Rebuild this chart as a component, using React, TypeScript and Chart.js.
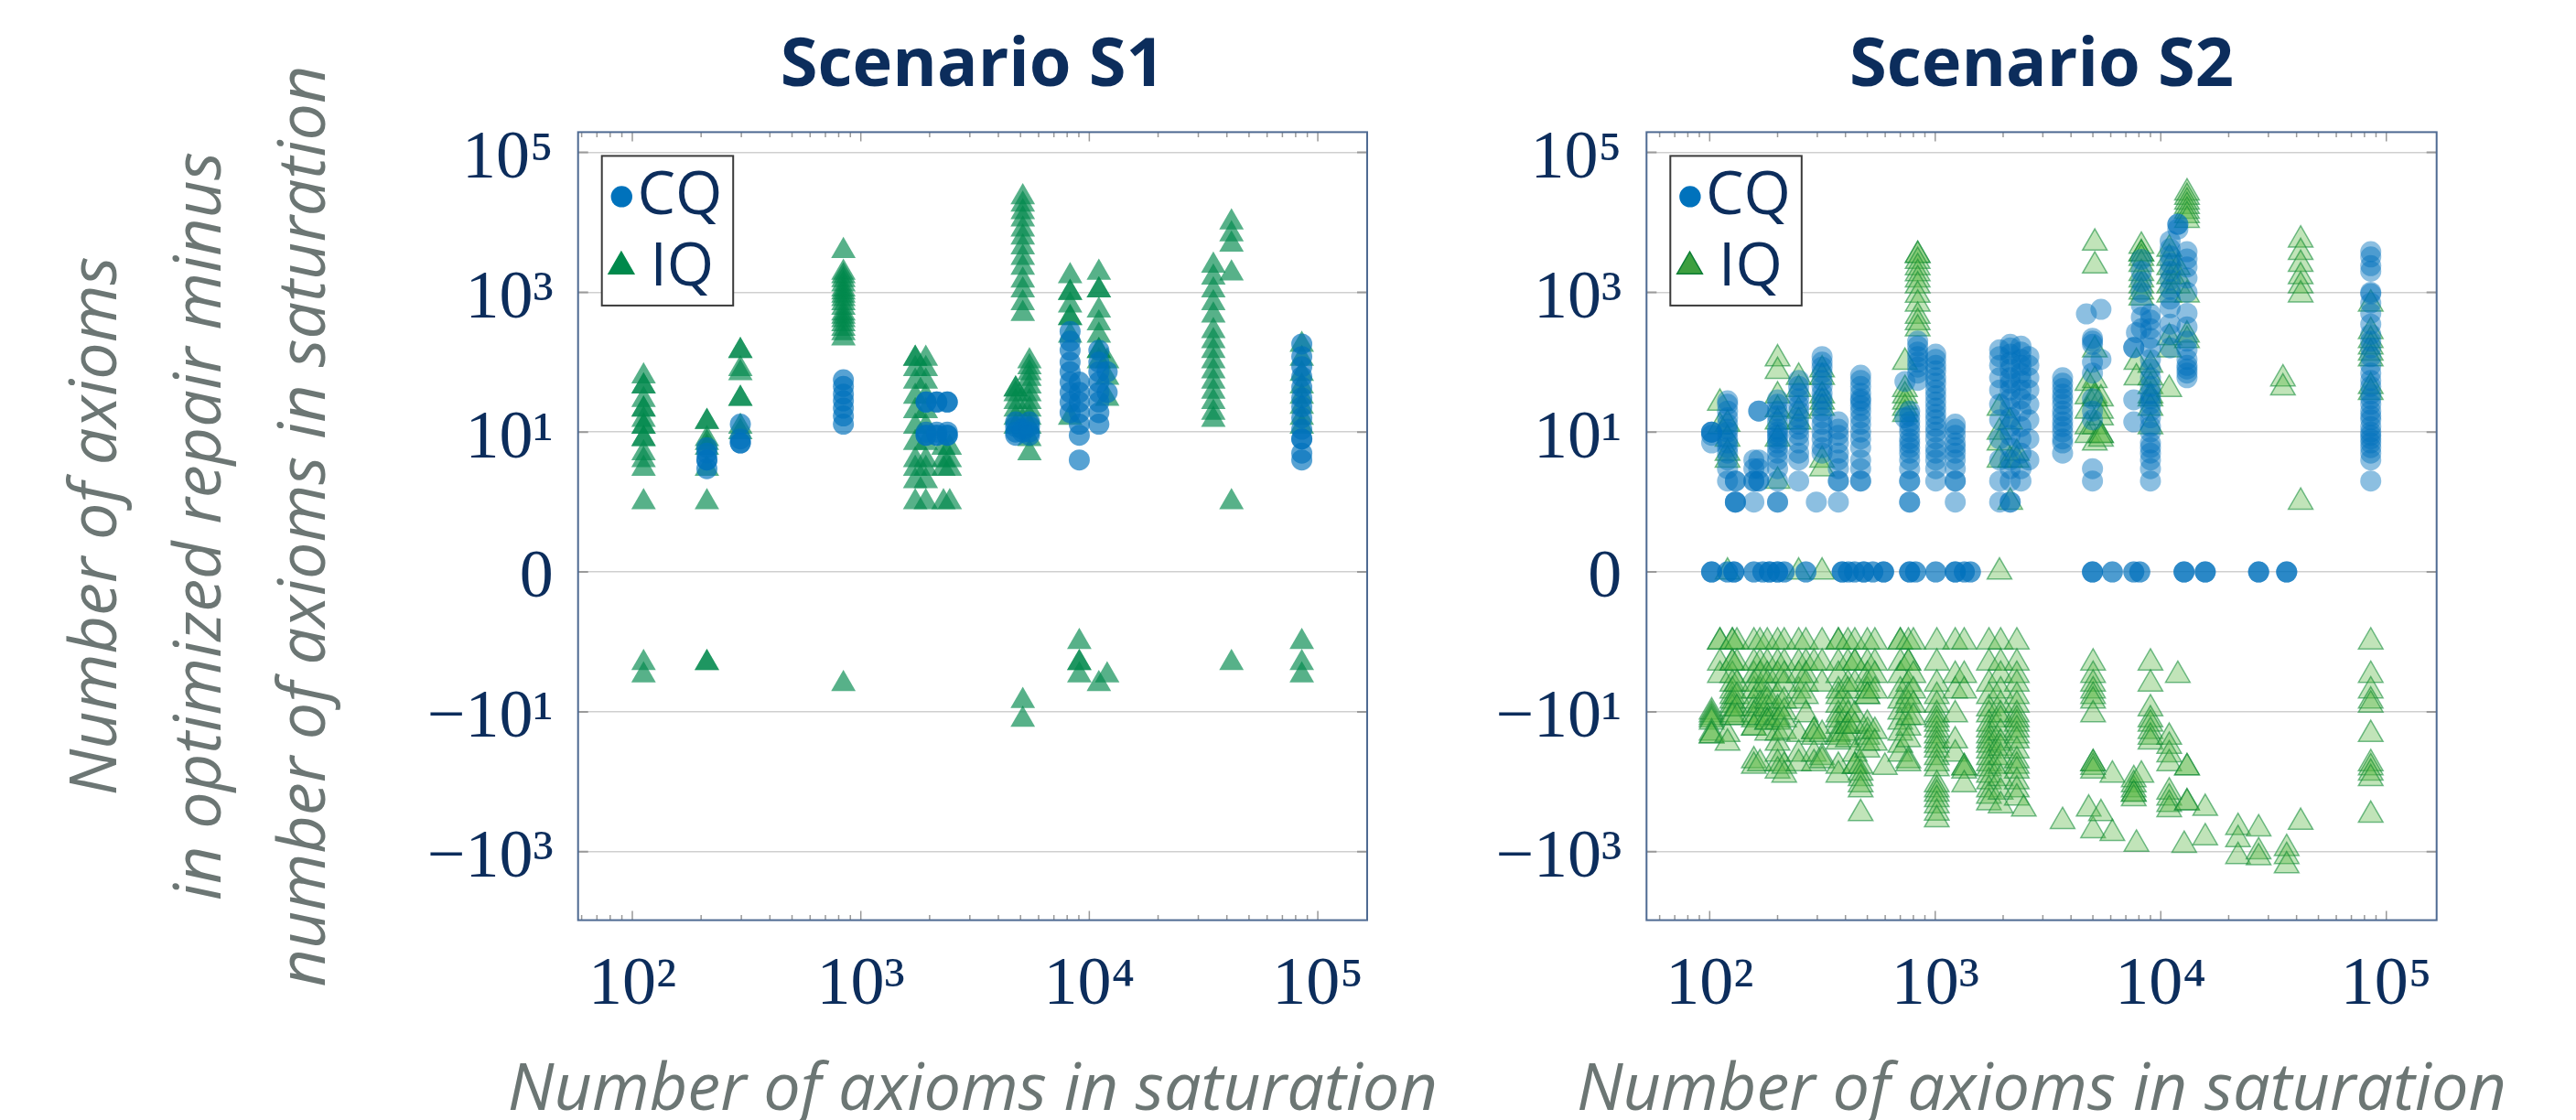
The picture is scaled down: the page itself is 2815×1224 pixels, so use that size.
import React, { useEffect, useRef } from 'react';
import { Chart, registerables } from 'chart.js';

Chart.register(...registerables);

type Column = [number, number[]];

// ---------------- data (x = axioms in saturation, values = difference) ----------------
const s1CQ: Column[] = [
  [212, [6, 5, 4, 4, 3]],
  [297, [13, 8, 7, 7]],
  [839, [56, 45, 35, 28, 22, 17, 13]],
  [1930, [27, 27, 10, 9, 9]],
  [2150, [27, 27, 10, 9, 9]],
  [2390, [27, 27, 10, 9, 9]],
  [4760, [14, 12, 10, 9]],
  [5100, [11, 10]],
  [5470, [14, 12, 10, 9]],
  [8240, [275, 200, 148, 100, 73, 52, 37, 27, 19]],
  [9040, [52, 37, 27, 19, 13, 9, 4]],
  [11010, [148, 100, 73, 52, 37, 27, 19, 13]],
  [11970, [73, 37]],
  [85100, [182, 120, 86, 62, 44, 31, 23, 16, 11, 8, 8, 5, 4]],
];

const s1IQ: Column[] = [
  [112, [63, 45, 45, 29, 21, 21, 15, 12, 12, 8, 8, 5, 4, 3, 1, -2, -3]],
  [212, [14, 14, 8, 7, 6, 3, 1, -2, -2]],
  [297, [145, 145, 80, 70, 30, 30, 12, 10]],
  [839, [3900, 1900, 1700, 1500, 1300, 1100, 1000, 900, 800, 700, 600, 500, 450, 400, 350, 300, 260, 220, -4]],
  [1730, [112, 112, 80, 53, 32, 20, 12, 7, 4, 3, 2, 1]],
  [1925, [112, 80, 53, 32, 20, 12, 7, 4, 3, 2, 1]],
  [2300, [6, 4, 3, 1]],
  [2450, [6, 4, 3, 1]],
  [4760, [41, 41, 35, 27, 21, 16, 12]],
  [5115, [22900, 18000, 14000, 11000, 7900, 6100, 4400, 3100, 2250, 1480, 1070, 700, 490, -7, -13]],
  [5470, [103, 85, 70, 58, 45, 35, 27, 21, 16, 12, 8, 5]],
  [8240, [1700, 980, 980, 650, 430, 430, 240, 16]],
  [9040, [-1, -2, -2, -3]],
  [11010, [1900, 1070, 1070, 550, 360, 240, 145, 145, 103, -4]],
  [11970, [103, 60, 30, -3]],
  [34900, [2400, 1630, 1070, 700, 465, 280, 200, 145, 103, 74, 53, 38, 27, 19, 15]],
  [41900, [10000, 6760, 4800, 1860, 1, -2]],
  [85100, [178, 112, 68, 45, 32, 23, 16, 12, -1, -2, -3]],
];

const s2CQ: Column[] = [
  [102, [10, 10, 10, 9, 7, 0, 0, 0]],
  [120, [28, 25, 20, 16, 13, 11, 10, 8, 7, 6, 5, 4, 3, 2, 0, 0]],
  [128, [0, 0, 0]],
  [130, [2, 2, 1, 1, 1]],
  [157, [4, 3, 2, 2, 1, 0, 0]],
  [165, [20, 20, 4, 3, 2, 2]],
  [172, [0, 0]],
  [184, [0, 0, 0]],
  [200, [29, 25, 20, 17, 14, 11, 10, 9, 8, 7, 6, 5, 4, 3, 2, 1, 1, 0, 0, 0]],
  [214, [0, 0]],
  [248, [55, 45, 36, 30, 24, 20, 16, 13, 11, 9, 7, 5, 4, 2]],
  [267, [0, 0]],
  [297, [1]],
  [315, [120, 100, 85, 70, 55, 45, 36, 30, 25, 20, 16, 13, 10, 8, 6, 5]],
  [372, [14, 11, 9, 7, 5, 4, 3, 2, 2, 1]],
  [387, [0, 0, 0]],
  [412, [0, 0]],
  [439, [0, 0]],
  [467, [65, 55, 45, 36, 30, 28, 24, 20, 16, 13, 10, 8, 6, 4, 3, 2, 2]],
  [482, [0, 0, 0]],
  [529, [0, 0]],
  [590, [0, 0, 0]],
  [734, [53, 16]],
  [770, [20, 17, 14, 12, 10, 8, 7, 6, 5, 4, 3, 2, 2, 1, 1, 0, 0, 0]],
  [818, [0, 0]],
  [836, [200, 170, 140, 120, 100, 85, 70, 55]],
  [1005, [130, 110, 90, 75, 60, 50, 40, 33, 27, 22, 18, 15, 12, 10, 8, 6, 5, 4, 3, 2, 0, 0]],
  [1227, [13, 11, 9, 7, 6, 5, 4, 3, 2, 2, 1, 0, 0, 0]],
  [1346, [0, 0]],
  [1432, [0, 0]],
  [1930, [150, 120, 90, 60, 40, 25, 15, 8, 4, 2, 1]],
  [2150, [180, 160, 130, 100, 80, 60, 50, 40, 30, 22, 16, 12, 9, 6, 4, 3, 2, 1, 1]],
  [2400, [170, 140, 110, 90, 70, 55, 40, 30, 20, 12, 8, 5, 3, 2]],
  [2600, [120, 90, 60, 40, 25, 15, 8, 4]],
  [3670, [60, 50, 42, 35, 30, 25, 20, 17, 14, 12, 10, 8, 7, 5]],
  [4680, [490]],
  [4980, [220, 200, 180, 100, 70, 30, 20, 15, 3, 2, 0, 0, 0]],
  [5430, [570, 110]],
  [6100, [0, 0]],
  [7590, [162, 162, 29, 14, 0, 0]],
  [7800, [265]],
  [8070, [0, 0]],
  [8200, [2950, 2000, 1400, 1000, 660, 440, 300]],
  [9000, [490, 400, 300, 220, 160, 110, 80, 60, 45, 35, 30, 25, 20, 16, 12, 10, 7, 6, 5, 4, 3, 2]],
  [11000, [5400, 4200, 3300, 2600, 2000, 1500, 1100, 800, 600, 350, 250, 160]],
  [11900, [9400, 9400, 8000]],
  [12680, [0, 0, 0]],
  [13070, [3800, 3000, 2300, 1600, 1000, 500, 320, 200, 150, 110, 90, 80, 70, 60]],
  [15740, [0, 0, 0]],
  [27150, [0, 0, 0]],
  [36150, [0, 0, 0]],
  [85300, [3800, 3200, 2400, 2000, 1000, 950, 700, 500, 350, 250, 200, 160, 120, 90, 70, 55, 45, 35, 30, 25, 20, 17, 15, 12, 10, 9, 8, 7, 6, 5, 4, 2]],
];

const s2IQ: Column[] = [
  [102, [-10, -11, -12, -13, -14, -20, -22, -22]],
  [111, [26, 12, -1, -1, -2, -3]],
  [120, [13, 8, 5, 4, 0, -21, -28]],
  [126, [-1, -1, -2, -2, -3, -4, -5, -6, -7, -8, -9, -11, -12]],
  [132, [-1, -2, -4, -6, -9, -12]],
  [157, [-1, -2, -3, -4, -5, -7, -9, -11, -13, -17, -17, -50, -60]],
  [167, [-1, -2, -3, -5, -8, -12, -55]],
  [180, [-1, -2, -3, -4, -6, -7, -9, -12, -14, -14, -20]],
  [200, [112, 74, 33, 21, 14, 8, 2, -1, -2, -3, -6, -9, -12, -14, -20, -28, -40, -55, -70]],
  [214, [-1, -2, -3, -4, -7, -10, -13, -19, -60, -80]],
  [248, [61, 41, 20, 14, 0, -1, -2, -3, -5, -7, -21, -40, -55]],
  [267, [-1, -2, -3, -4, -6, -11]],
  [290, [-2, -19, -19, -23, -40, -55]],
  [315, [78, 61, 33, 27, 22, 4, 3, 0, -1, -2, -4, -21, -45, -50]],
  [372, [-1, -1, -2, -3, -5, -6, -8, -11, -13, -16, -21, -23, -27, -60, -80]],
  [410, [-1, -2, -4, -5, -8, -11, -16, -16, -20, -25]],
  [440, [-1, -2, -2, -4, -11, -16, -40, -60, -60]],
  [467, [-60, -75, -90, -110, -130, -285]],
  [500, [-1, -2, -3, -4, -5, -6, -6, -15, -19, -23, -28, -35]],
  [540, [-1, -2, -3, -5, -19, -28]],
  [598, [-62]],
  [700, [-1, -1, -2, -3, -5, -7, -10, -14, -20, -30, -40]],
  [734, [100, 41, 33, 27, 22, 18]],
  [760, [-1, -2, -2, -4, -6, -8, -12, -17, -25, -50, -55]],
  [800, [-1, -3, -5, -8, -12]],
  [836, [3380, 3380, 2770, 2250, 1850, 1510, 1240, 910, 680, 455, 370, 300]],
  [1016, [-1, -2, -4, -6, -8, -11, -13, -15, -18, -22, -26, -30, -35, -45, -55, -65, -110, -130, -150, -180, -220, -280, -350]],
  [1226, [-1, -3, -5, -11, -26, -40]],
  [1344, [-1, -3, -5, -63, -63, -70, -110]],
  [1730, [-1, -2, -4, -6, -9, -11, -15, -18, -22, -26, -30, -36, -45, -55, -65, -80, -100, -130, -160, -200]],
  [1927, [22, 10, 7, 4, 0]],
  [1950, [-1, -2, -3, -5, -8, -11, -13, -20, -28, -33, -45, -60, -90, -140, -220]],
  [2150, [14, 4, 1]],
  [2300, [5, 4, -1, -2, -3, -4, -6, -8, -11, -13, -15, -18, -22, -26, -36, -50, -60, -70, -100, -130, -170]],
  [2470, [-245]],
  [3670, [-370]],
  [4730, [50, 32, 20, 12, 9]],
  [4790, [-245]],
  [5010, [-2, -3, -4, -5, -6, -7, -11, -55, -55, -62, -70, -500]],
  [5100, [5060, 2380, 150, 55, 33, 30, 12, 7]],
  [5430, [30, 20, 16, 9, 9, 8, -285]],
  [6100, [-80, -550]],
  [7590, [-93, -110, -130, -150, -150, -175]],
  [7800, [100, 60, -780]],
  [8200, [4570, 3550, 3550, 3070, 2510, 1860, 1510, 1240, 1010, 830, -80]],
  [9000, [91, 60, 45, 33, 30, 22, 12, -2, -4, -9, -13, -15, -19, -23, -27]],
  [10900, [4140, 3070, 2260, 1670, 1240, 920, 225, 150, 41, -23, -31, -41, -55, -140, -170, -210, -250]],
  [11900, [2260, 1670, 1240, -3]],
  [12700, [-810]],
  [13070, [26500, 22800, 19600, 16900, 14500, 12500, 10700, 920, 245, 205, -63, -63, -200, -200]],
  [15740, [-630, -240]],
  [22000, [-450, -670, -1170]],
  [27150, [-470, -1000, -1220]],
  [34800, [58, 43]],
  [36150, [-900, -1170, -1590]],
  [41700, [5600, 3720, 2510, 1670, 1240, 920, 1, -380]],
  [85300, [680, 275, 205, 166, 135, 112, 45, 37, -1, -3, -5, -7, -8, -21, -55, -63, -75, -90, -300]],
];

const panelTitles = ['Scenario S1', 'Scenario S2'];
const seriesLabels = ['CQ', 'IQ'];
const xAxisTitle = 'Number of axioms in saturation';
const yAxisTitle = ['Number of axioms', 'in optimized repair minus', 'number of axioms in saturation'];
const yTickValues = [-1000, -10, 0, 10, 1000, 100000];
const yTickLabels = ['\u221210\u00B3', '\u221210\u00B9', '0', '10\u00B9', '10\u00B3', '10\u2075'];
const xTickValues = [100, 1000, 10000, 100000];
const xTickLabels = ['10\u00B2', '10\u00B3', '10\u2074', '10\u2075'];

// ---------------- helpers ----------------
const NAVY = '#0c2d5c';
const GRAY_TEXT = '#6c7674';
const CANVAS_H = 1224;
const AXIS_TITLE_SIZE = 72;

function symlog(v: number): number {
  if (v === 0) return 0;
  return Math.sign(v) * (1 + Math.log10(Math.abs(v)));
}

function flatten(cols: Column[]) {
  const pts: { x: number; y: number }[] = [];
  for (const [x, ys] of cols) for (const y of ys) pts.push({ x, y: symlog(y) });
  return pts;
}

type Panel = {
  title: string;
  cq: Column[];
  iq: Column[];
  canvasLeft: number;
  canvasWidth: number;
  padLeft: number;
  padRight: number;
  yAxisWidth: number;
  xMin: number;
  xMax: number;
  showYTitle: boolean;
  cqColor: string;
  iqFill: string;
  iqBorder: string;
  iqBorderWidth: number;
  legendCq: string;
  legendTri: string;
  legendTriBorder: string;
};

// plot areas: S1 x 631.7..1494, S2 x 1799.3..2662.7, both y 144.4..1005.6
const panels: Panel[] = [
  {
    title: panelTitles[0],
    cq: s1CQ,
    iq: s1IQ,
    canvasLeft: 0,
    canvasWidth: 1640,
    padLeft: 49,
    padRight: 1640 - 1494,
    yAxisWidth: 631.7 - 49,
    xMin: Math.pow(10, 1.7625),
    xMax: Math.pow(10, 5.216),
    showYTitle: true,
    cqColor: 'rgba(0,114,188,0.66)',
    iqFill: 'rgba(0,137,76,0.66)',
    iqBorder: 'rgba(0,137,76,0)',
    iqBorderWidth: 0,
    legendCq: '#0072bc',
    legendTri: '#00894c',
    legendTriBorder: '#00894c',
  },
  {
    title: panelTitles[1],
    cq: s2CQ,
    iq: s2IQ,
    canvasLeft: 1600,
    canvasWidth: 1215,
    padLeft: 0,
    padRight: 2815 - 2662.7,
    yAxisWidth: 1799.3 - 1600,
    xMin: Math.pow(10, 1.72),
    xMax: Math.pow(10, 5.223),
    showYTitle: false,
    cqColor: 'rgba(0,114,188,0.45)',
    iqFill: 'rgba(92,184,72,0.38)',
    iqBorder: 'rgba(10,135,50,0.55)',
    iqBorderWidth: 1.5,
    legendCq: '#0072bc',
    legendTri: '#3d9f3f',
    legendTriBorder: '#0b7d35',
  },
];

const framePlugin = {
  id: 'frame',
  afterDraw(chart: any, _args: any, opts: any) {
    const { ctx, chartArea: a, scales } = chart;
    const xs = scales.x;
    const ys = scales.y;
    ctx.save();
    // x ticks (inside, top and bottom)
    ctx.strokeStyle = '#999999';
    ctx.lineWidth = 1.5;
    const lo = Math.floor(Math.log10(xs.min));
    const hi = Math.ceil(Math.log10(xs.max));
    for (let k = lo; k <= hi; k++) {
      for (let m = 1; m <= 9; m++) {
        const v = m * Math.pow(10, k);
        if (v < xs.min || v > xs.max) continue;
        const px = xs.getPixelForValue(v);
        const len = m === 1 ? 10 : 5.5;
        ctx.beginPath();
        ctx.moveTo(px, a.bottom);
        ctx.lineTo(px, a.bottom - len);
        ctx.moveTo(px, a.top);
        ctx.lineTo(px, a.top + len);
        ctx.stroke();
      }
    }
    // y ticks
    ctx.strokeStyle = '#9a9a9a';
    ctx.lineWidth = 2;
    for (const v of yTickValues) {
      const py = ys.getPixelForValue(symlog(v));
      ctx.beginPath();
      ctx.moveTo(a.left, py);
      ctx.lineTo(a.left + 11, py);
      ctx.moveTo(a.right, py);
      ctx.lineTo(a.right - 11, py);
      ctx.stroke();
    }
    // frame
    ctx.strokeStyle = '#4e6a92';
    ctx.lineWidth = 2;
    ctx.strokeRect(a.left, a.top, a.right - a.left, a.bottom - a.top);

    // x-axis title (wider than the plot, so drawn without width limit)
    ctx.fillStyle = GRAY_TEXT;
    ctx.font = `italic 400 ${AXIS_TITLE_SIZE}px "Open Sans", sans-serif`;
    ctx.textAlign = 'center';
    ctx.textBaseline = 'alphabetic';
    ctx.fillText(opts.xTitle, (a.left + a.right) / 2, 1212.5);

    // legend
    const lx = a.left + 26;
    const ly = a.top + 26;
    const lw = 143.5;
    const lh = 163.5;
    ctx.fillStyle = '#ffffff';
    ctx.fillRect(lx, ly, lw, lh);
    ctx.strokeStyle = '#3a3a3a';
    ctx.lineWidth = 2;
    ctx.strokeRect(lx, ly, lw, lh);
    ctx.fillStyle = opts.cq;
    ctx.beginPath();
    ctx.arc(lx + 21.6, ly + 44.5, 11.7, 0, Math.PI * 2);
    ctx.fill();
    const tx = lx + 21.2;
    const ty = ly + 120.8;
    const r = 16;
    ctx.beginPath();
    ctx.moveTo(tx, ty - r);
    ctx.lineTo(tx + r * Math.sin((2 * Math.PI) / 3), ty - r * Math.cos((2 * Math.PI) / 3));
    ctx.lineTo(tx + r * Math.sin((4 * Math.PI) / 3), ty - r * Math.cos((4 * Math.PI) / 3));
    ctx.closePath();
    ctx.fillStyle = opts.tri;
    ctx.fill();
    ctx.strokeStyle = opts.triBorder;
    ctx.lineWidth = 1.5;
    ctx.stroke();
    const labels = chart.data.datasets.map((d: any) => d.label);
    ctx.fillStyle = NAVY;
    ctx.font = '66px "Open Sans", sans-serif';
    ctx.textAlign = 'left';
    ctx.textBaseline = 'alphabetic';
    ctx.fillText(labels[0], lx + 38.7, ly + 63.5);
    ctx.fillText(labels[1], lx + 52.7, ly + 141.5);
    ctx.restore();
  },
};

function buildConfig(p: Panel): any {
  const xTicks = xTickValues.filter((v) => v >= p.xMin && v <= p.xMax);
  const yTicks = yTickValues.map((v) => symlog(v));
  const tickFont = { family: '"Liberation Serif", "Times New Roman", serif', size: 74, lineHeight: 1.2 };
  return {
    type: 'scatter',
    data: {
      datasets: [
        {
          label: seriesLabels[0],
          data: flatten(p.cq),
          pointStyle: 'circle',
          pointRadius: 11.5,
          pointHoverRadius: 11.5,
          backgroundColor: p.cqColor,
          borderWidth: 0,
          borderColor: 'rgba(0,0,0,0)',
        },
        {
          label: seriesLabels[1],
          data: flatten(p.iq),
          pointStyle: 'triangle',
          pointRadius: 15.5,
          pointHoverRadius: 15.5,
          backgroundColor: p.iqFill,
          borderColor: p.iqBorder,
          borderWidth: p.iqBorderWidth,
        },
      ],
    },
    options: {
      animation: false,
      responsive: false,
      maintainAspectRatio: false,
      devicePixelRatio: 1,
      events: [],
      layout: { padding: { left: p.padLeft, right: p.padRight, top: 0, bottom: 0 } },
      plugins: {
        legend: { display: false },
        tooltip: { enabled: false },
        title: {
          display: true,
          text: p.title,
          color: NAVY,
          fullSize: false,
          font: { family: '"Open Sans", sans-serif', size: 74, weight: 'bold', lineHeight: 1.2 },
          padding: { top: 28.6, bottom: 27 },
        },
        frame: { cq: p.legendCq, tri: p.legendTri, triBorder: p.legendTriBorder, xTitle: xAxisTitle },
      },
      scales: {
        x: {
          type: 'logarithmic',
          min: p.xMin,
          max: p.xMax,
          afterBuildTicks: (s: any) => {
            s.ticks = xTicks.map((v) => ({ value: v }));
          },
          afterFit: (s: any) => {
            s.height = CANVAS_H - 1005.6;
          },
          ticks: {
            autoSkip: false,
            maxRotation: 0,
            minRotation: 0,
            padding: 27.5,
            color: NAVY,
            font: tickFont,
            callback: (v: number) => {
              const i = xTickValues.findIndex((t) => Math.abs(t - v) < 1e-6 * t);
              return i >= 0 ? xTickLabels[i] : '';
            },
          },
          grid: { display: false, drawTicks: false },
          border: { display: false },
          title: { display: false, text: xAxisTitle },
        },
        y: {
          type: 'linear',
          min: -4.98,
          max: 6.29,
          afterBuildTicks: (s: any) => {
            s.ticks = yTicks.map((v) => ({ value: v }));
          },
          afterFit: (s: any) => {
            s.width = p.yAxisWidth;
          },
          ticks: {
            autoSkip: false,
            padding: 27,
            labelOffset: 8,
            color: NAVY,
            font: tickFont,
            callback: (v: number) => {
              const i = yTicks.findIndex((t) => Math.abs(t - v) < 1e-6);
              return i >= 0 ? yTickLabels[i] : '';
            },
          },
          grid: { color: '#cfcfcf', lineWidth: 1.5, drawTicks: false },
          border: { display: false },
          title: {
            display: p.showYTitle,
            text: yAxisTitle,
            color: GRAY_TEXT,
            font: { family: '"Open Sans", sans-serif', size: AXIS_TITLE_SIZE, style: 'italic', weight: 'normal', lineHeight: 114 / AXIS_TITLE_SIZE },
            padding: { top: 0, bottom: 0 },
          },
        },
      },
    },
    plugins: [framePlugin],
  };
}

function PanelChart({ panel }: { panel: Panel }) {
  const ref = useRef<HTMLCanvasElement | null>(null);
  useEffect(() => {
    if (!ref.current) return;
    const chart = new Chart(ref.current, buildConfig(panel));
    return () => chart.destroy();
  }, [panel]);
  return (
    <canvas
      ref={ref}
      width={panel.canvasWidth}
      height={CANVAS_H}
      style={{ position: 'absolute', left: panel.canvasLeft, top: 0, width: panel.canvasWidth, height: CANVAS_H, display: 'block' }}
    />
  );
}

export default function App() {
  return (
    <div style={{ position: 'absolute', left: 0, top: 0, width: 2815, height: CANVAS_H, background: '#ffffff', overflow: 'hidden' }}>
      {panels.map((p, i) => (
        <PanelChart key={i} panel={p} />
      ))}
    </div>
  );
}
